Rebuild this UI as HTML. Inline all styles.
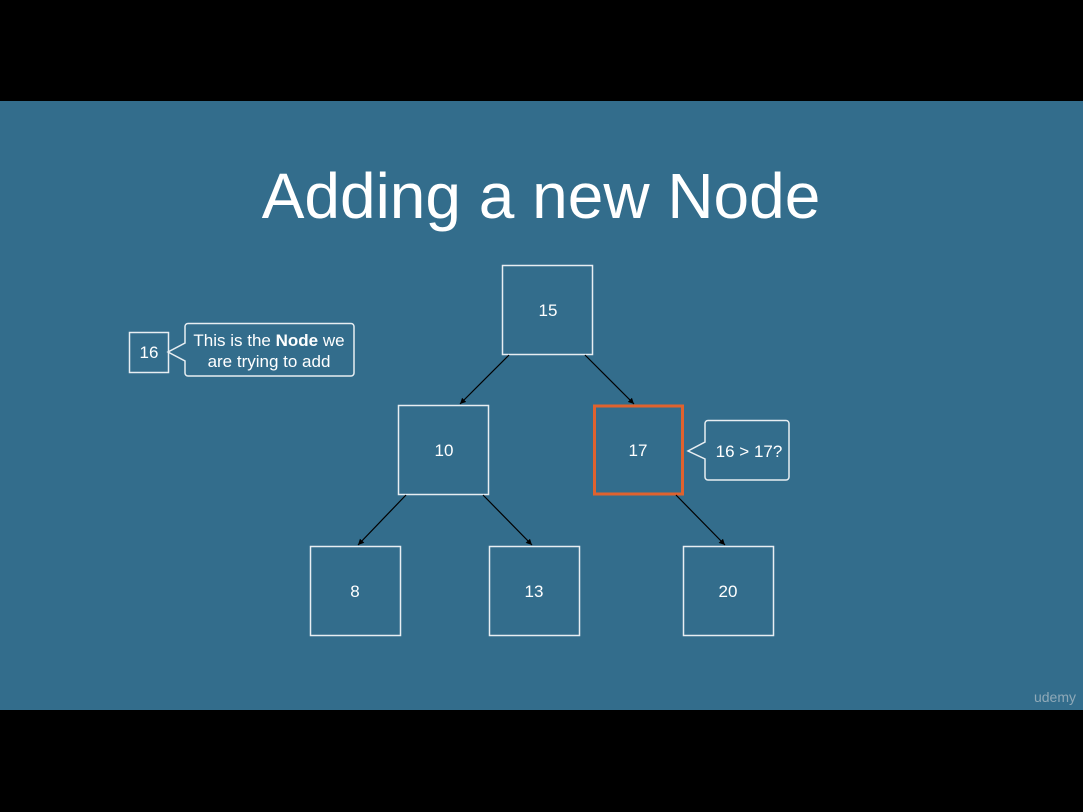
<!DOCTYPE html>
<html><head><style>
html,body{margin:0;padding:0;background:#000;width:1083px;height:812px;overflow:hidden}
svg{display:block}
text{font-family:"Liberation Sans",sans-serif;fill:#fff}
</style></head><body>
<svg width="1083" height="812" viewBox="0 0 1083 812">
<defs><marker id="a" markerWidth="8" markerHeight="8" refX="6" refY="3" orient="auto" markerUnits="userSpaceOnUse"><path d="M0,0 L6,3 L0,6 z" fill="#000"/></marker></defs>
<rect x="0" y="0" width="1083" height="812" fill="#000"/>
<rect x="0" y="101" width="1083" height="609" fill="#336d8c"/>
<text x="541" y="218" font-size="64" text-anchor="middle">Adding a new Node</text>
<g fill="none" stroke="#e8eef2" stroke-width="1.5">
<rect x="502.5" y="265.5" width="90" height="89"/>
<rect x="398.5" y="405.5" width="90" height="89"/>
<rect x="310.5" y="546.5" width="90" height="89"/>
<rect x="489.5" y="546.5" width="90" height="89"/>
<rect x="683.5" y="546.5" width="90" height="89"/>
<rect x="129.5" y="332.5" width="39" height="40"/>
<path d="M188,323.5 H351 a3,3 0 0 1 3,3 V373 a3,3 0 0 1 -3,3 H188 a3,3 0 0 1 -3,-3 V361 L168,352 L185,343 V326.5 a3,3 0 0 1 3,-3 z"/>
<path d="M708,420.5 H786 a3,3 0 0 1 3,3 V477 a3,3 0 0 1 -3,3 H708 a3,3 0 0 1 -3,-3 V459 L688,451 L705,442 V423.5 a3,3 0 0 1 3,-3 z"/>
</g>
<rect x="594.5" y="406" width="88" height="88" fill="none" stroke="#e0622e" stroke-width="3"/>
<g stroke="#000" stroke-width="1.2" marker-end="url(#a)">
<line x1="509" y1="355" x2="460" y2="404"/>
<line x1="585" y1="355" x2="634" y2="404"/>
<line x1="406" y1="495" x2="358" y2="545"/>
<line x1="483" y1="495" x2="532" y2="545"/>
<line x1="676" y1="495" x2="725" y2="545"/>
</g>
<g font-size="17" text-anchor="middle">
<text x="548" y="316">15</text>
<text x="444" y="456">10</text>
<text x="638" y="456">17</text>
<text x="355" y="597">8</text>
<text x="534" y="597">13</text>
<text x="728" y="597">20</text>
<text x="149" y="358">16</text>
<text x="749" y="457">16 &gt; 17?</text>
<text x="269" y="346">This is the <tspan font-weight="bold">Node</tspan> we</text>
<text x="269" y="367">are trying to add</text>
</g>
<text x="1076" y="702" font-size="14" text-anchor="end" style="fill:#8fa9b8">udemy</text>
</svg>
</body></html>
